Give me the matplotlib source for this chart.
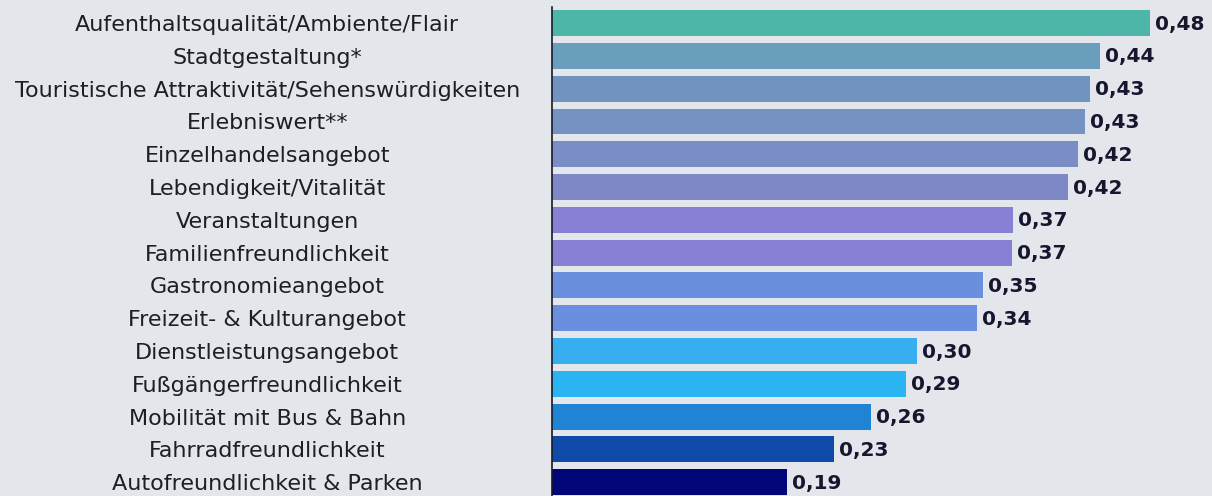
import matplotlib
matplotlib.use("Agg")
import matplotlib.pyplot as plt

categories = [
    "Aufenthaltsqualität/Ambiente/Flair",
    "Stadtgestaltung*",
    "Touristische Attraktivität/Sehenswürdigkeiten",
    "Erlebniswert**",
    "Einzelhandelsangebot",
    "Lebendigkeit/Vitalität",
    "Veranstaltungen",
    "Familienfreundlichkeit",
    "Gastronomieangebot",
    "Freizeit- & Kulturangebot",
    "Dienstleistungsangebot",
    "Fußgängerfreundlichkeit",
    "Mobilität mit Bus & Bahn",
    "Fahrradfreundlichkeit",
    "Autofreundlichkeit & Parken",
]
values = [0.480, 0.440, 0.432, 0.428, 0.422, 0.414, 0.370, 0.369,
          0.346, 0.341, 0.293, 0.284, 0.256, 0.226, 0.189]
value_labels = ["0,48", "0,44", "0,43", "0,43", "0,42", "0,42", "0,37", "0,37",
                "0,35", "0,34", "0,30", "0,29", "0,26", "0,23", "0,19"]
colors = ["#4db6a9", "#6a9ebd", "#7094bf", "#7592c2", "#7a8dc5", "#7e88c6",
          "#8880d4", "#8880d4", "#6a8fdf", "#6a8fdf", "#36aef0", "#2bb4f2",
          "#1f84d4", "#0f4aa8", "#020679"]

BG = "#e3e6ea"
W, H = 1212, 496
fig = plt.figure(figsize=(W / 100, H / 100), dpi=100, facecolor=BG)
ax = fig.add_axes([552 / W, 0, 660 / W, 489 / H])
ax.set_facecolor(BG)

ypos = list(range(len(categories)))
ax.barh(ypos, values, height=0.79, color=colors, zorder=2)
ax.set_xlim(0, 0.5297)
ax.set_ylim(len(categories) - 1 + 0.42, -0.49)

for y, v, lab in zip(ypos, values, value_labels):
    ax.text(v + 0.004, y + 0.03, lab, va="center", ha="left", fontsize=14.5,
            fontweight="bold", color="#16162e", family="DejaVu Sans")

ax.set_yticks(ypos, labels=categories)
ax.tick_params(axis="y", length=0, pad=205)
for t in ax.get_yticklabels():
    t.set_ha("center")
    t.set_fontsize(16)
    t.set_family("DejaVu Sans")
    t.set_color("#1e1e24")
ax.set_xticks([])
for s in ["top", "right", "bottom"]:
    ax.spines[s].set_visible(False)
ax.spines["left"].set_color("#1a1a2a")
ax.spines["left"].set_linewidth(1.2)
ax.spines["left"].set_zorder(3)

fig.savefig("out.png", dpi=100, facecolor=BG)
